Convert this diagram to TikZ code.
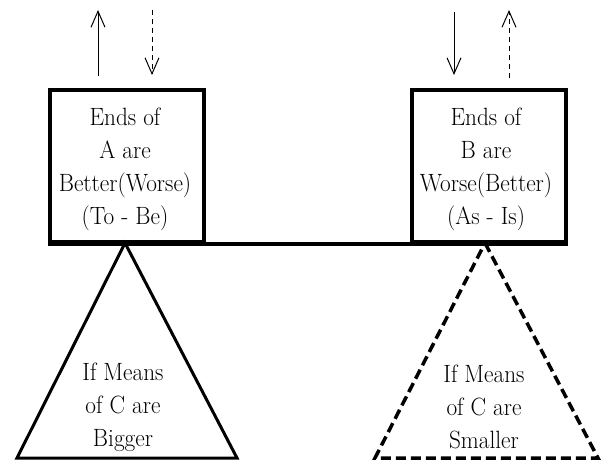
\documentclass[tikz,border=0pt]{standalone}
\usepackage{fontspec}
\setmainfont{Latin Modern Roman}[FakeStretch=0.93]
\usetikzlibrary{arrows.meta}
\begin{document}
\begin{tikzpicture}[x=1pt,y=-1pt,
  box/.style={draw,line width=4pt,minimum width=154pt,minimum height=152pt,inner sep=0pt,anchor=north west},
  txt/.style={align=center,inner sep=0pt,font=\fontsize{25}{33}\selectfont},
  arr/.style={line width=1pt,-{Straight Barb[length=16pt,width=14pt,line width=1pt]}},
  darr/.style={arr,dash pattern=on 5pt off 4pt},
  tri/.style={line width=3pt,line join=miter}]
\useasboundingbox (0,0) rectangle (602,460);
% boxes
\node[box] (A) at (48,88) {};
\node[box] (B) at (410,88) {};
\node[txt] (At) at (125,169) {Ends of\\A are\\Better(Worse)\\(To - Be)};
\node[txt] (Bt) at (486,169) {Ends of\\B are\\Worse(Better)\\(As - Is)};
% beam
\draw[line width=4pt] (A.south west) -- (B.south east);
% arrows
\coordinate (a1s) at (98,76); \coordinate (a1e) at (98,10);
\coordinate (a2s) at (152,10); \coordinate (a2e) at (152,75);
\coordinate (b1s) at (454,12); \coordinate (b1e) at (454,75);
\coordinate (b2s) at (509,78); \coordinate (b2e) at (509,10);
\draw[arr] (a1s) -- (a1e);
\draw[darr] (a2s) -- (a2e);
\draw[arr] (b1s) -- (b1e);
\draw[darr] (b2s) -- (b2e);
% triangles
\coordinate (L1) at (125,243); \coordinate (L2) at (237,458); \coordinate (L3) at (17,458);
\coordinate (R1) at (485,243); \coordinate (R2) at (598,458); \coordinate (R3) at (375,458);
\draw[tri] (L1) -- (L2) -- (L3) -- cycle;
\draw[tri,line width=3.5pt,dash pattern=on 10pt off 5pt] (R1) -- (R2) -- (R3) -- cycle;
\node[txt] (Lt) at (123,407) {If Means\\of C are\\Bigger};
\node[txt] (Rt) at (484,407) {If Means\\of C are\\Smaller};
\end{tikzpicture}
\end{document}
